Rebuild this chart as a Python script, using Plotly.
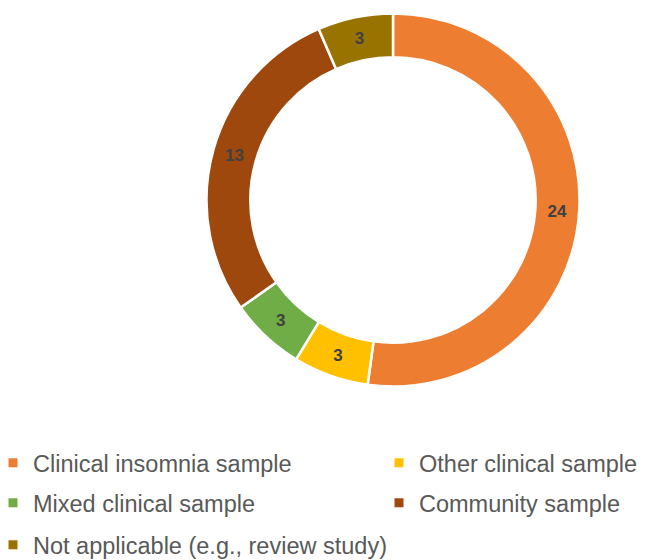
import plotly.graph_objects as go

categories = ["Clinical insomnia sample", "Other clinical sample", "Mixed clinical sample",
              "Community sample", "Not applicable (e.g., review study)"]
counts = [24, 3, 3, 13, 3]
colors = ["#ED7D31", "#FFC000", "#70AD47", "#9E480E", "#997300"]

# The page body adds an 8px margin, so the figure is drawn 8px smaller and
# layout positions are expressed in figure pixels (screen - 8).
W, H = 639, 552
legend_x = [-15, 371, -15, 371, -15]
legend_y = [455, 455, 495, 495, 537]
cx, cy, R = 385, 192, 186.5

FONT = "Liberation Sans, Arial, sans-serif"

fig = go.Figure()
fig.add_trace(go.Pie(
    labels=categories, values=counts, sort=False, direction="clockwise", rotation=0,
    hole=0.765,
    marker=dict(colors=colors, line=dict(color="white", width=2.5)),
    texttemplate="%{value}", textposition="inside", insidetextorientation="horizontal",
    textfont=dict(family=FONT, size=17, color="#404040", weight="bold"),
    domain=dict(x=[(cx - R) / W, (cx + R) / W], y=[(H - cy - R) / H, (H - cy + R) / H]),
    showlegend=False, hoverinfo="label+value",
))

legend_names = ["legend"] + ["legend%d" % i for i in range(2, 6)]
layout_legends = {}
for cat, col, lname, lx, ly in zip(categories, colors, legend_names, legend_x, legend_y):
    fig.add_trace(go.Scatter(
        x=[None], y=[None], mode="markers", name=cat, legend=lname,
        marker=dict(symbol="square", size=9, color=col), showlegend=True,
    ))
    layout_legends[lname] = dict(
        orientation="v", xanchor="left", yanchor="middle",
        x=lx / W, y=(H - ly) / H,
        font=dict(family=FONT, size=23.5, color="#595959"),
        bgcolor="rgba(0,0,0,0)", itemclick=False, itemdoubleclick=False,
    )

fig.update_layout(
    width=W, height=H, margin=dict(l=0, r=0, t=0, b=0, autoexpand=False),
    paper_bgcolor="white", plot_bgcolor="white",
    xaxis=dict(visible=False), yaxis=dict(visible=False),
    **layout_legends,
)
fig.write_html("out.html")
